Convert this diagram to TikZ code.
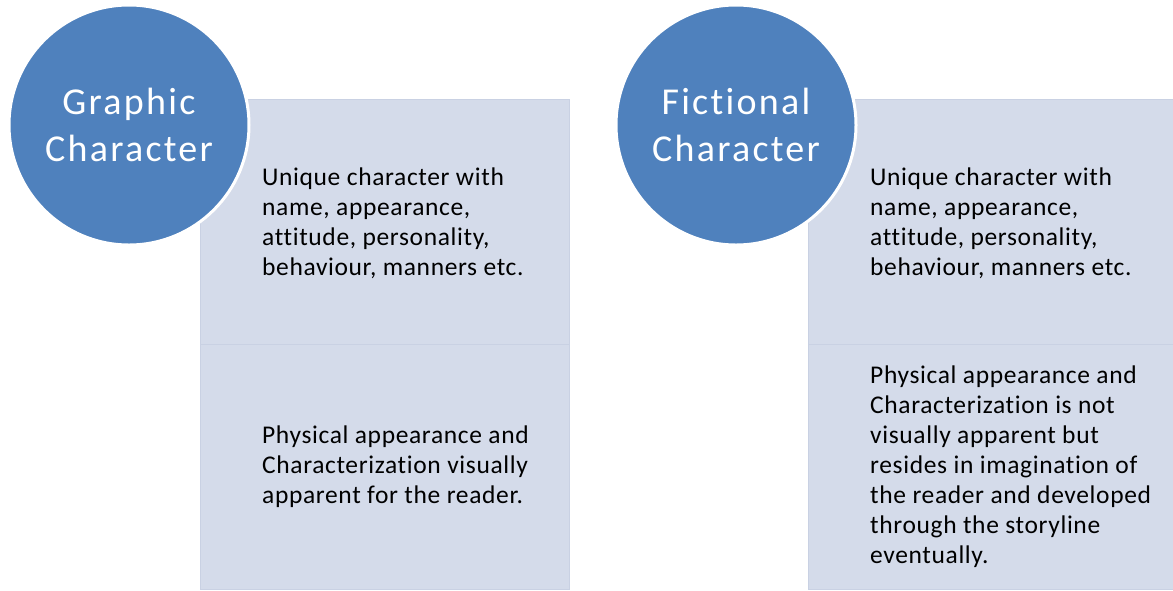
\documentclass[tikz,border=0pt]{standalone}
\usepackage{fontspec}
\setmainfont{Carlito}
\newfontfamily\cellfont{Carlito}[LetterSpace=2.5, Ligatures=NoCommon]
\newfontfamily\discfont{Carlito}[LetterSpace=6, Ligatures=NoCommon]
\usepackage{tikz}
\usetikzlibrary{positioning}
\definecolor{accentblue}{RGB}{79,129,189}
\definecolor{panelfill}{RGB}{212,219,234}
\definecolor{paneledge}{RGB}{201,209,227}
\tikzset{
	cell/.style={rectangle, fill=panelfill, draw=paneledge, line width=1.2pt, minimum width=369pt, minimum height=245pt, inner sep=0pt, anchor=north west},
	disc/.style={circle, fill=accentblue, draw=white, line width=3pt, minimum size=240pt, inner sep=0pt, text=white, align=center, font=\discfont\fontsize{38}{47}\selectfont},
	celltext/.style={anchor=west, align=left, inner sep=0pt, font=\cellfont\fontsize{25.5}{30}\selectfont}
}

\begin{document}
\begin{tikzpicture}[x=1pt, y=-1pt]
			%%%%% START %%%%%
			
			\useasboundingbox[fill=white] (0, 0) rectangle (1173, 590);
			
			% left side
			\node[cell] (graphictop) at (199.5, 98.5) {};
			\node[cell] (graphicbot) at (199.5, 343.5) {};
			\node[celltext] (graphicone) at (262, 223) {Unique character with\\name, appearance,\\attitude, personality,\\behaviour, manners etc.};
			\node[celltext] (graphictwo) at (262, 467) {Physical appearance and\\Characterization visually\\apparent for the reader.};
			\node[disc] (graphic) at (129, 125) {Graphic\\Character};
			
			% right side
			\node[cell] (fictiontop) at (807.5, 98.5) {};
			\node[cell] (fictionbot) at (807.5, 343.5) {};
			\node[celltext] (fictionone) at (870, 223) {Unique character with\\name, appearance,\\attitude, personality,\\behaviour, manners etc.};
			\node[celltext] (fictiontwo) at (870, 467) {Physical appearance and\\Characterization is not\\visually apparent but\\resides in imagination of\\the reader and developed\\through the storyline\\eventually.};
			\node[disc] (fiction) at (736, 125) {Fictional\\Character};
			
			%%%%% END %%%%%
		\end{tikzpicture}
\end{document}
